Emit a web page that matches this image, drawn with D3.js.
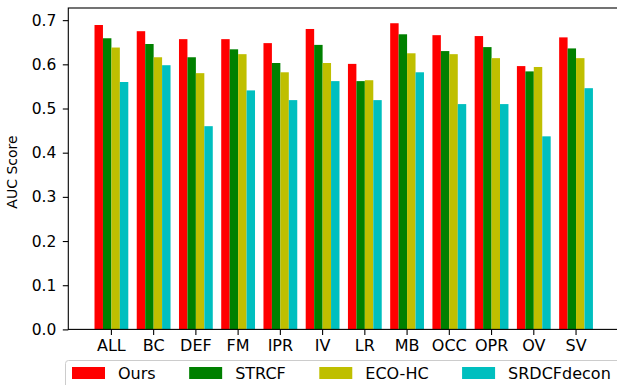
<!DOCTYPE html>
<html>
<head>
<meta charset="utf-8">
<script src="https://cdn.jsdelivr.net/npm/d3@7"></script>
<style>
  body { margin: 0; background: #fff; overflow: hidden; }
  text { font-family: "DejaVu Sans", sans-serif; fill: #000; }
</style>
</head>
<body>
<div id="chart"></div>
<script>
const categories = ['ALL', 'BC', 'DEF', 'FM', 'IPR', 'IV', 'LR', 'MB', 'OCC', 'OPR', 'OV', 'SV']
const series = ['Ours', 'STRCF', 'ECO-HC', 'SRDCFdecon']
const ours   = [0.689, 0.675, 0.657, 0.657, 0.648, 0.680, 0.601, 0.693, 0.666, 0.664, 0.596, 0.661]
const strcf  = [0.659, 0.646, 0.616, 0.634, 0.603, 0.644, 0.562, 0.668, 0.630, 0.639, 0.584, 0.636]
const ecohc  = [0.638, 0.616, 0.580, 0.623, 0.582, 0.603, 0.564, 0.625, 0.623, 0.614, 0.594, 0.614]
const srdcf  = [0.560, 0.598, 0.460, 0.541, 0.519, 0.562, 0.519, 0.582, 0.510, 0.510, 0.437, 0.546]
const yTicks = [0.0, 0.1, 0.2, 0.3, 0.4, 0.5, 0.6, 0.7]

const values = [ours, strcf, ecohc, srdcf]
const colors = ['#ff0000', '#008000', '#bfbf00', '#00bfbf']

const W = 617, H = 385
const mLeft = 68.3, mRight = 618.3, mTop = 8, mBottom = 329.4
const step = 42.24, firstCenter = 111.4

const svg = d3.select('#chart').append('svg').attr('width', W).attr('height', H)

// categories: band scale, groups take 0.8 of each step
const x = d3.scaleBand()
    .domain(categories)
    .range([firstCenter - step / 2, firstCenter - step / 2 + step * categories.length])
    .paddingInner(0.2)
    .paddingOuter(0.1)

const xs = d3.scaleBand().domain(series).range([0, x.bandwidth()])

const y = d3.scaleLinear().domain([0, 0.7275]).range([mBottom, mTop])

// bars
series.forEach((s, si) => {
    svg.append('g').selectAll('rect')
        .data(categories.map((c, i) => ({c: c, v: values[si][i]})))
        .enter()
        .append('rect')
        .attr('x', d => x(d.c) + xs(s))
        .attr('width', xs.bandwidth())
        .attr('y', d => y(d.v))
        .attr('height', d => y(0) - y(d.v))
        .attr('fill', colors[si])
})

// axes
let yAxis = svg.append('g').attr('transform', 'translate(' + mLeft + ',0)')
    .call(d3.axisLeft(y).tickValues(yTicks).tickFormat(d3.format('.1f')).tickSize(5.5).tickPadding(6.5).tickSizeOuter(0))
yAxis.select('.domain').remove()
yAxis.selectAll('text').style('font-size', '15.5px')
yAxis.selectAll('line').attr('stroke', '#000').attr('stroke-width', 1.1)

let xAxis = svg.append('g').attr('transform', 'translate(0,' + mBottom + ')')
    .call(d3.axisBottom(x).tickSize(5.5).tickPadding(5).tickSizeOuter(0))
xAxis.select('.domain').remove()
xAxis.selectAll('text').style('font-size', '16px')
xAxis.selectAll('line').attr('stroke', '#000').attr('stroke-width', 1.1)

// spines
svg.append('rect')
    .attr('x', mLeft).attr('y', mTop)
    .attr('width', mRight - mLeft).attr('height', mBottom - mTop)
    .attr('fill', 'none').attr('stroke', '#000').attr('stroke-width', 1.1)

svg.append('text')
    .attr('transform', 'translate(17,172) rotate(-90)')
    .attr('text-anchor', 'middle')
    .style('font-size', '14px')
    .text('AUC Score')

// legend (runs off the bottom/right of the figure)
let legend = svg.append('g')
legend.append('rect')
    .attr('x', 65.5).attr('y', 360.5)
    .attr('width', 600).attr('height', 50)
    .attr('rx', 3)
    .attr('fill', '#fff').attr('stroke', '#cccccc').attr('stroke-width', 1)

let lx = 72
series.forEach((s, si) => {
    legend.append('rect')
        .attr('x', lx).attr('y', 367)
        .attr('width', 33).attr('height', 12)
        .attr('fill', colors[si])
    let t = legend.append('text')
        .attr('x', lx + 46).attr('y', 373).attr('dy', '0.36em')
        .style('font-size', '16px')
        .text(s)
    lx = lx + 46 + t.node().getComputedTextLength() + 33.5
})
</script>
</body>
</html>
